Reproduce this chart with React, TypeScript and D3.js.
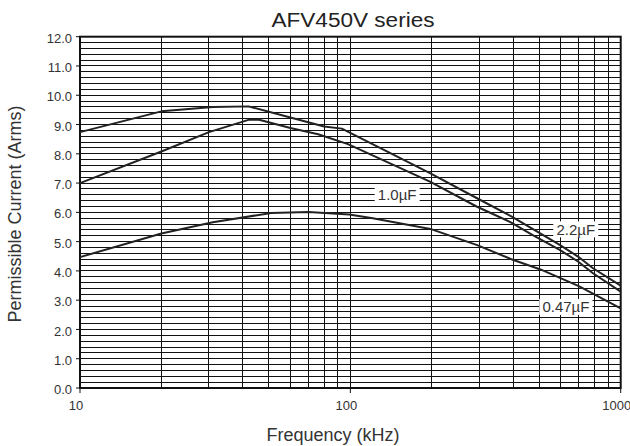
import React from "react";
import * as d3 from "d3";

// Frequency (kHz) / current (Arms) readings per capacitance
const freq22 = [10, 20, 31, 42, 60, 80, 93, 197, 293, 394, 502, 595, 695, 790, 1000];
const amps22 = [8.74, 9.45, 9.6, 9.62, 9.24, 8.93, 8.86, 7.34, 6.49, 5.86, 5.29, 4.89, 4.49, 4.09, 3.5];

const freq10 = [10, 20, 30, 42, 46, 60, 76, 98, 197, 293, 394, 471, 595, 695, 790, 1000];
const amps10 = [7.0, 8.08, 8.74, 9.16, 9.16, 8.88, 8.67, 8.33, 7.05, 6.2, 5.65, 5.23, 4.72, 4.32, 3.92, 3.29];

const freq047 = [10, 20, 31, 51, 70, 99, 121, 200, 293, 394, 505, 700, 1000];
const amps047 = [4.47, 5.28, 5.66, 5.98, 6.01, 5.93, 5.8, 5.42, 4.89, 4.4, 4.05, 3.48, 2.72];

const seriesNames = ["2.2µF", "1.0µF", "0.47µF"];
// where each curve label sits (frequency, current)
const labelFreq = [682, 149, 627];
const labelAmps = [5.42, 6.6, 2.77];

const xTickLabels = [10, 100, 1000];
const yTickLabels = d3.range(0, 13, 1);

const W = 630;
const H = 446;

export default function App() {
  const x = d3.scaleLog().domain([10, 1000]).range([80, 620.7]);
  const y = d3.scaleLinear().domain([0, 12]).range([388, 36.7]);

  const series = [
    freq22.map((f, i) => [f, amps22[i]] as [number, number]),
    freq10.map((f, i) => [f, amps10[i]] as [number, number]),
    freq047.map((f, i) => [f, amps047[i]] as [number, number]),
  ];

  const line = d3
    .line<[number, number]>()
    .x(d => x(d[0]))
    .y(d => y(d[1]));

  const hGrid = d3.range(0, 60).map(i => i * 0.2);
  const vGrid = x.ticks().filter(t => t > 10 && t < 1000);

  const [x0, x1] = x.range();
  const [y0, y1] = y.range();

  return (
    <div style={{ position: "absolute", left: 0, top: 0 }}>
      <svg width={W} height={H} style={{ display: "block", background: "#fff" }} fontFamily="'Liberation Sans', Arial, sans-serif">
        {/* grid */}
        <g stroke="#111" strokeWidth={1} shapeRendering="crispEdges">
          {hGrid.map(v => (
            <line key={"h" + v} x1={x0} x2={x1} y1={y(v)} y2={y(v)} />
          ))}
          {vGrid.map(t => (
            <line key={"v" + t} x1={x(t)} x2={x(t)} y1={y1} y2={y0} />
          ))}
        </g>

        {/* frame */}
        <rect x={x0} y={y1} width={x1 - x0} height={y0 - y1} fill="none" stroke="#111" strokeWidth={2} />

        {/* curves */}
        {series.map((s, i) => (
          <path key={i} d={line(s) || ""} fill="none" stroke="#222" strokeWidth={2} strokeLinejoin="round" />
        ))}

        {/* curve labels */}
        {seriesNames.map((name, i) => {
          const cx = x(labelFreq[i]);
          const cy = y(labelAmps[i]);
          const w = name.length * 8.2 + 4;
          return (
            <g key={name}>
              <rect x={cx - w / 2} y={cy - 8} width={w} height={16} fill="#fff" />
              <text x={cx} y={cy} dy="0.36em" textAnchor="middle" fontSize={15} fill="#333">
                {name}
              </text>
            </g>
          );
        })}

        {/* y ticks */}
        {yTickLabels.map(v => (
          <g key={"yt" + v}>
            <line x1={x0 - 4} x2={x0} y1={y(v)} y2={y(v)} stroke="#111" strokeWidth={1} />
            <text x={72} y={y(v) + 1.5} dy="0.35em" textAnchor="end" fontSize={13} fill="#333">
              {v.toFixed(1)}
            </text>
          </g>
        ))}

        {/* x ticks */}
        {xTickLabels.map(t => (
          <g key={"xt" + t}>
            <line x1={x(t)} x2={x(t)} y1={y0} y2={y0 + 5} stroke="#111" strokeWidth={1} />
            <text x={x(t) - 4} y={410} textAnchor="middle" fontSize={13} fill="#333">
              {t}
            </text>
          </g>
        ))}

        {/* titles */}
        <text x={353} y={27} textAnchor="middle" fontSize={20} fill="#222" textLength={163} lengthAdjust="spacingAndGlyphs">
          AFV450V series
        </text>
        <text x={333} y={441} textAnchor="middle" fontSize={18} fill="#333">
          Frequency (kHz)
        </text>
        <text transform="translate(21,214) rotate(-90)" textAnchor="middle" fontSize={18} fill="#333">
          Permissible Current (Arms)
        </text>
      </svg>
    </div>
  );
}
